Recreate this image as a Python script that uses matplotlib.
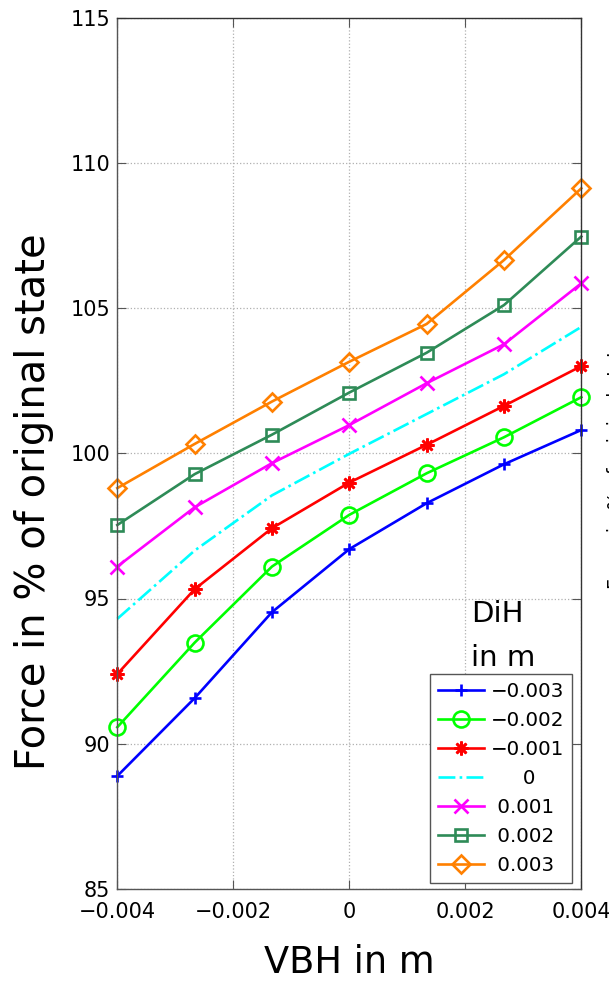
import matplotlib
matplotlib.use("Agg")
import matplotlib.pyplot as plt
import numpy as np

plt.rcParams['font.family'] = ['DejaVu Sans']

# ---- data ----
vbh = [-0.004, -0.0026667, -0.0013333, 0.0, 0.0013333, 0.0026667, 0.004]
dih_labels = ['\u22120.003', '\u22120.002', '\u22120.001', '     0', ' 0.001', ' 0.002', ' 0.003']
f_m003 = [88.89, 91.57, 94.53, 96.70, 98.28, 99.62, 100.80]
f_m002 = [90.57, 93.48, 96.10, 97.88, 99.31, 100.55, 101.93]
f_m001 = [92.40, 95.32, 97.42, 98.99, 100.29, 101.63, 103.00]
f_0 = [94.30, 96.65, 98.55, 99.98, 101.35, 102.72, 104.35]
f_p001 = [96.10, 98.14, 99.66, 100.97, 102.41, 103.75, 105.85]
f_p002 = [97.53, 99.28, 100.64, 102.09, 103.46, 105.10, 107.46]
f_p003 = [98.80, 100.32, 101.78, 103.15, 104.45, 106.65, 109.12]
series = [f_m003, f_m002, f_m001, f_0, f_p001, f_p002, f_p003]

xticks = [-0.004, -0.002, 0, 0.002, 0.004]
xtick_labels = ['\u22120.004', '\u22120.002', '0', '0.002', '0.004']
yticks = [85, 90, 95, 100, 105, 110, 115]

colors = ['#0000FF', '#00FF00', '#FF0000', '#00FFFF', '#FF00FF', '#2E8B57', '#FF8000']
markers = ['+', 'o', (8, 2, 0), None, 'x', 's', 'D']
msizes = [9, 11.5, 10, 0, 9.5, 9, 9.5]
lstyles = ['-', '-', '-', '-.', '-', '-', '-']

W, H = 609, 981
fig = plt.figure(figsize=(W / 100, H / 100), dpi=100)
L, R, T, B = 117.3, 581.3, 17.5, 889.0
ax = fig.add_axes([L / W, 1 - B / H, (R - L) / W, (B - T) / H])

for ys, c, m, ms, ls, lab in zip(series, colors, markers, msizes, lstyles, dih_labels):
    ax.plot(vbh, ys, color=c, marker=m, markersize=ms, linestyle=ls, linewidth=1.9,
            markerfacecolor='none', markeredgewidth=1.9, label=lab, clip_on=False)

ax.set_xlim(-0.004, 0.004)
ax.set_ylim(85, 115)
ax.set_xticks(xticks)
ax.set_xticklabels(xtick_labels)
ax.set_yticks(yticks)
ax.grid(True, linestyle=':', color='#b0b0b0', linewidth=0.9)
ax.tick_params(direction='in', length=6.5, width=0.8, top=True, right=True,
               colors='#555555', labelcolor='black')
ax.tick_params(axis='x', labelsize=15, pad=9)
ax.tick_params(axis='y', labelsize=15, pad=5)
for s in ax.spines.values():
    s.set_color('#555555')
    s.set_linewidth(1.0)
ax.spines['right'].set_color('#333333')
ax.spines['top'].set_color('#333333')

ax.set_xlabel('VBH in m', fontsize=26.5)
ax.xaxis.set_label_coords(0.5, -0.063)
ax.set_ylabel('Force in % of original state', fontsize=28.8)
ax.yaxis.set_label_coords(-0.136, 0.444)

leg = ax.legend(loc='lower right', bbox_to_anchor=(0.9806, 0.0072), borderaxespad=0,
                fontsize=14.3, labelspacing=0.5, handlelength=2.3, handletextpad=0.35,
                borderpad=0.4, fancybox=False, framealpha=1, edgecolor='#555555')
leg.get_frame().set_linewidth(1.0)

ax.text((471 - L) / (R - L), (B - 621.7) / (B - T), 'DiH', fontsize=21,
        ha='left', va='baseline', transform=ax.transAxes)
ax.text((471 - L) / (R - L), (B - 665.7) / (B - T), 'in m', fontsize=21,
        ha='left', va='baseline', transform=ax.transAxes)

fig.text(607.5 / W, 1 - 589 / H, 'Force in % of original state', rotation=90,
         fontsize=13.5, ha='left', va='bottom')

fig.savefig('out.png', dpi=100)
